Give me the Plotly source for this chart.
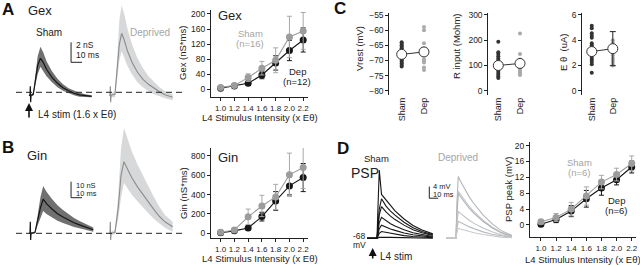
import plotly.graph_objects as go

W, H = 640, 265
FONT = "Liberation Sans, Arial, Helvetica, sans-serif"
GRAY = "#9c9c9c"
BLACK = "#151515"
TXT = "#222222"
DARKBAND = "#707070"
LIGHTBAND = "#d6d8da"
DEPLINE = "#8c8c8c"

# ---------------- data ----------------
levels = [1.0, 1.2, 1.4, 1.6, 1.8, 2.0, 2.2]
level_labels = ["1.0", "1.2", "1.4", "1.6", "1.8", "2.0", "2.2"]

gex_sham = [5, 10, 31, 56, 77, 139, 155]
gex_sham_err = [3, 4, 10, 18, 33, 55, 49]
gex_dep = [3, 9, 16, 38, 70, 103, 131]
gex_dep_err = [2, 3, 5, 10, 19, 27, 32]

gin_sham = [10, 34, 170, 282, 375, 603, 679]
gin_sham_err = [5, 10, 80, 110, 130, 224, 217]
gin_dep = [5, 25, 55, 172, 334, 489, 575]
gin_dep_err = [3, 8, 15, 45, 96, 93, 145]

psp_sham = [0.8, 1.9, 4.0, 7.3, 10.8, 12.7, 15.5]
psp_sham_err = [0.5, 1.0, 1.7, 2.3, 1.7, 1.6, 1.9]
psp_dep = [0.2, 1.4, 3.5, 6.6, 9.3, 11.4, 14.6]
psp_dep_err = [0.4, 0.8, 1.4, 2.1, 1.8, 1.3, 1.5]

groups = ["Sham", "Dep"]
vrest_sham = [-64, -64.5, -65, -65.5, -66, -66.5, -67, -68, -68.5, -69, -69.5, -70, -70.5, -71, -71.5, -72]
vrest_dep = [-59, -60, -64.3, -66, -67, -67.5, -68, -69.6, -70.2, -70.7, -72.3, -73.2]
vrest_mean = [-68.0, -67.2]
rin_sham = [194, 152, 145, 137, 128, 120, 112, 105, 98, 92, 85, 78, 70, 63, 56, 50]
rin_dep = [227, 145, 124, 110, 102, 95, 89, 82, 75, 70, 65, 62]
rin_mean = [100, 108]
eth_sham = [5.15, 4.95, 4.55, 4.35, 4.2, 3.75, 3.6, 3.45, 3.2, 3.0, 2.8, 2.6, 2.45, 2.3, 2.1, 1.43]
eth_dep = [4.0, 3.8, 3.5, 3.3, 3.1, 3.0, 2.8, 2.6, 2.45, 2.3, 2.1, 2.0]
eth_mean = [3.1, 3.33]
eth_dep_err = 1.35

# Gex traces (ms after stim, nS)
gex_sham_t = [-1, 0, 0.3, 0.6, 1, 3, 5, 7, 9.5, 12, 15, 20, 25, 30, 35, 40, 45, 50, 56]
gex_sham_mean = [-0.3, -0.3, 0.6, -1.0, -0.3, -0.2, 1.3, 2.7, 3.4, 3.0, 2.3, 1.5, 0.9, 0.45, 0.15, -0.1, -0.25, -0.35, -0.4]
gex_sham_band_t = [1, 3, 5, 7, 9.5, 12, 15, 20, 25, 30, 35, 40, 45, 50, 56]
gex_sham_hi = [-0.2, -0.05, 1.8, 3.6, 4.55, 4.0, 3.1, 2.1, 1.35, 0.8, 0.4, 0.15, -0.05, -0.2, -0.3]
gex_sham_lo = [-0.4, -0.35, 0.8, 1.8, 2.55, 2.1, 1.6, 1.0, 0.5, 0.15, -0.1, -0.3, -0.45, -0.5, -0.5]

gex_dep_t = [-1, 0, 0.3, 0.6, 1, 4.5, 6.5, 8.5, 10.6, 13, 16, 20, 25, 30, 35, 40, 45, 50, 57]
gex_dep_mean = [-0.3, -0.3, 0.6, -1.0, -0.3, -0.2, 2.2, 4.8, 5.9, 5.2, 4.1, 3.0, 2.0, 1.3, 0.8, 0.4, 0.05, -0.25, -0.5]
gex_dep_band_t = [1, 4.5, 6.5, 8.5, 10.6, 13, 16, 20, 25, 30, 35, 40, 45, 50, 57]
gex_dep_hi = [-0.1, 0.1, 3.5, 7.2, 8.7, 7.8, 6.3, 4.8, 3.4, 2.4, 1.6, 1.0, 0.5, 0.1, -0.2]
gex_dep_lo = [-0.5, -0.5, 1.2, 3.2, 4.1, 3.5, 2.6, 1.8, 1.0, 0.5, 0.1, -0.2, -0.4, -0.6, -0.8]

# Gin traces
gin_sham_t = [-1, 0, 0.3, 0.6, 1, 4.5, 7, 9.5, 12, 15, 20, 25, 30, 35, 40, 45, 50, 57.5]
gin_sham_mean = [0, 0, 7.2, -4.2, 0, 0.5, 8, 16, 21.4, 18.5, 15.2, 12.2, 10.2, 8.3, 6.6, 5.3, 4.0, 2.2]
gin_sham_band_t = [1, 4.5, 7, 9.5, 12, 15, 20, 25, 30, 35, 40, 45, 50, 57.5]
gin_sham_hi = [0.5, 1.2, 11.5, 22.5, 29.6, 26, 21.5, 17.5, 14.5, 11.8, 9.5, 7.7, 6.0, 3.6]
gin_sham_lo = [-0.5, 0, 5, 10, 13.9, 12, 9.8, 7.8, 6.4, 5.1, 4.0, 3.1, 2.3, 1.0]

gin_dep_t = [-1, 0, 0.3, 0.6, 1, 4.5, 7.5, 10, 12.7, 16, 20, 25, 30, 35, 40, 45, 50, 57]
gin_dep_mean = [0, 0, 7.2, -4.2, 0, 0.5, 16, 36, 44.8, 40, 34.5, 29, 24, 19.5, 14.8, 10.5, 7.2, 4.1]
gin_dep_band_t = [1, 4.5, 7.5, 10, 12.7, 16, 20, 25, 30, 35, 40, 45, 50, 57]
gin_dep_hi = [1, 2, 24, 53, 65.8, 59, 51, 43, 36, 29, 22.5, 16.5, 11.5, 7.2]
gin_dep_lo = [-1, -0.5, 9, 22, 31.4, 28, 24, 20, 16, 12.5, 9, 6, 3.5, 1.0]

# PSP traces (ms, mV above -68 mV)
psp_t = [-11, 0, 1, 2.5, 5, 10, 15, 20, 30, 40, 50, 62]
psp_sham_traces = [
    [0, 0, 10, 23.3, 15, 13, 11, 9.4, 6.6, 4.4, 2.8, 1.5],
    [0, 0, 4, 10, 13.5, 11, 9.3, 7.9, 5.5, 3.6, 2.3, 1.2],
    [0, 0, 3, 8, 10.8, 9.0, 7.6, 6.4, 4.5, 2.9, 1.9, 1.0],
    [0, 0, 2, 5.3, 7.2, 6.0, 5.0, 4.2, 2.9, 1.9, 1.2, 0.6],
    [0, 0, 1.2, 3.3, 4.5, 3.8, 3.2, 2.7, 1.8, 1.2, 0.8, 0.4],
    [0, 0, 0.6, 1.7, 2.3, 2.0, 1.7, 1.4, 0.9, 0.6, 0.4, 0.2],
    [0, 0, 0.1, 0.3, 0.4, 0.35, 0.3, 0.25, 0.15, 0.1, 0.05, 0],
]
psp_dep_traces = [
    [0, 0, 12, 21.1, 19.5, 16.5, 14.0, 11.8, 8.0, 5.0, 2.7, 1.0],
    [0, 0, 9, 16.1, 15.0, 12.8, 10.8, 9.1, 6.2, 3.9, 2.1, 0.8],
    [0, 0, 8.5, 15.4, 14.2, 12.0, 10.1, 8.5, 5.8, 3.6, 1.9, 0.7],
    [0, 0, 5, 9.2, 8.5, 7.2, 6.1, 5.1, 3.5, 2.2, 1.2, 0.5],
    [0, 0, 3.2, 5.8, 5.4, 4.6, 3.9, 3.3, 2.2, 1.4, 0.8, 0.3],
    [0, 0, 1.9, 3.4, 3.2, 2.7, 2.3, 1.9, 1.3, 0.8, 0.4, 0.2],
]
psp_dep_colors = ["#b3b6b9", "#c4c7ca", "#aeb1b4", "#bfc2c5", "#b8bbbe", "#c8cacc"]


def fx(x):
    return x / W


def fy(y):
    return 1 - y / H


fig = go.Figure()


def band(t, lo, hi, color, xa, ya):
    fig.add_trace(go.Scatter(x=t, y=lo, xaxis=xa, yaxis=ya, mode="lines",
                             line=dict(width=0, color=color), hoverinfo="skip"))
    fig.add_trace(go.Scatter(x=t, y=hi, xaxis=xa, yaxis=ya, mode="lines",
                             line=dict(width=0, color=color), fill="tonexty",
                             fillcolor=color, hoverinfo="skip"))


def line(t, y, color, xa, ya, w=1.2):
    fig.add_trace(go.Scatter(x=t, y=y, xaxis=xa, yaxis=ya, mode="lines",
                             line=dict(width=w, color=color), hoverinfo="skip"))


# Panel A traces
band(gex_sham_band_t, gex_sham_lo, gex_sham_hi, DARKBAND, "x", "y")
line(gex_sham_t, gex_sham_mean, BLACK, "x", "y")
band(gex_dep_band_t, gex_dep_lo, gex_dep_hi, LIGHTBAND, "x2", "y")
line(gex_dep_t, gex_dep_mean, DEPLINE, "x2", "y", 1.1)

# Panel B traces
band(gin_sham_band_t, gin_sham_lo, gin_sham_hi, DARKBAND, "x4", "y4")
line(gin_sham_t, gin_sham_mean, BLACK, "x4", "y4")
band(gin_dep_band_t, gin_dep_lo, gin_dep_hi, LIGHTBAND, "x5", "y4")
line(gin_dep_t, gin_dep_mean, DEPLINE, "x5", "y4", 1.1)

# Panel D traces
for tr in psp_sham_traces:
    line(psp_t, tr, BLACK, "x10", "y10", 1.1)
for tr, c in zip(psp_dep_traces, psp_dep_colors):
    line(psp_t, tr, c, "x11", "y10", 1.1)


def curve(y, err, color, ecolor, xa, ya):
    fig.add_trace(go.Scatter(
        x=levels, y=y, xaxis=xa, yaxis=ya, mode="lines+markers",
        line=dict(color=color, width=1.1),
        marker=dict(color=color, size=7),
        error_y=dict(type="data", array=err, color=ecolor, thickness=1, width=2.5),
        hoverinfo="skip"))


curve(gex_dep, gex_dep_err, BLACK, BLACK, "x3", "y3")
curve(gex_sham, gex_sham_err, GRAY, "#a8a8a8", "x3", "y3")
curve(gin_dep, gin_dep_err, BLACK, BLACK, "x6", "y6")
curve(gin_sham, gin_sham_err, GRAY, "#a8a8a8", "x6", "y6")
curve(psp_dep, psp_dep_err, BLACK, BLACK, "x12", "y12")
curve(psp_sham, psp_sham_err, GRAY, "#a8a8a8", "x12", "y12")


def scatter_panel(sham, dep, means, xa, ya, dep_err=None):
    fig.add_trace(go.Scatter(x=[groups[0]] * len(sham), y=sham, xaxis=xa, yaxis=ya,
                             mode="markers", marker=dict(color="#333333", size=4),
                             hoverinfo="skip"))
    fig.add_trace(go.Scatter(x=[groups[1]] * len(dep), y=dep, xaxis=xa, yaxis=ya,
                             mode="markers", marker=dict(color="#aaaaaa", size=4),
                             hoverinfo="skip"))
    if dep_err is not None:
        fig.add_trace(go.Scatter(x=[groups[1]], y=[means[1]], xaxis=xa, yaxis=ya,
                                 mode="markers", marker=dict(size=1, color="rgba(0,0,0,0)"),
                                 error_y=dict(type="data", array=[dep_err], color="#222",
                                              thickness=1, width=3),
                                 hoverinfo="skip"))
    fig.add_trace(go.Scatter(x=groups, y=means, xaxis=xa, yaxis=ya, mode="lines+markers",
                             line=dict(color="#333333", width=1),
                             marker=dict(color="white", size=10,
                                         line=dict(color="#333333", width=1)),
                             hoverinfo="skip"))


scatter_panel(vrest_sham, vrest_dep, vrest_mean, "x7", "y7")
scatter_panel(rin_sham, rin_dep, rin_mean, "x8", "y8")
scatter_panel(eth_sham, eth_dep, eth_mean, "x9", "y9", eth_dep_err)


# ---------------- axes ----------------
def hid(dom, rng, anchor, is_y=False):
    if is_y:
        d = [fy(dom[1]), fy(dom[0])]
    else:
        d = [fx(dom[0]), fx(dom[1])]
    return dict(domain=d, range=rng, visible=False, anchor=anchor, fixedrange=True)


axis_common = dict(ticks="outside", ticklen=3, tickwidth=1, tickcolor="#222",
                   showline=True, linecolor="#222", linewidth=1, showgrid=False,
                   zeroline=False, automargin=False,
                   tickfont=dict(size=8.5, color=TXT, family=FONT))


def xline(dom, rng, anchor):
    d = dict(axis_common)
    d.update(domain=[fx(dom[0]), fx(dom[1])], range=rng, anchor=anchor,
             tickvals=levels, ticktext=level_labels, tickangle=0,
             tickfont=dict(size=8, color=TXT, family=FONT))
    return d


def yline(dom, rng, anchor, tv):
    d = dict(axis_common)
    d.update(domain=[fy(dom[1]), fy(dom[0])], range=rng, anchor=anchor, tickvals=tv)
    return d


def xcat(dom, rng, anchor):
    return dict(domain=[fx(dom[0]), fx(dom[1])], range=rng, anchor=anchor,
                type="category", categoryorder="array", categoryarray=groups,
                showline=False, ticks="", showgrid=False, zeroline=False,
                automargin=False,
                tickangle=-90, tickfont=dict(size=9, color=TXT, family=FONT))


layout = dict(
    width=W, height=H, margin=dict(l=0, r=0, t=0, b=0),
    paper_bgcolor="white", plot_bgcolor="white", showlegend=False,
    font=dict(family=FONT, color=TXT),
    xaxis=hid((16, 100), [-12.7, 63.6], "y"),
    xaxis2=hid((100, 182), [-9.1, 65.5], "y"),
    yaxis=hid((0, 105), [-1.27, 9.23], "x", True),
    xaxis3=xline((211, 308), [0.86, 2.27], "y3"),
    yaxis3=yline((10, 97), [-20.5, 210.6], "x3", [0, 40, 80, 120, 160, 200]),
    xaxis4=hid((16, 100), [-12.7, 63.6], "y4"),
    xaxis5=hid((100, 182), [-9.1, 65.5], "y4"),
    yaxis4=hid((120, 245), [-7.3, 70.8], "x4", True),
    xaxis6=xline((211, 308), [0.86, 2.27], "y6"),
    yaxis6=yline((148, 238), [-48.6, 880], "x6", [0, 200, 400, 600, 800]),
    xaxis7=xcat((389.3, 436), [-0.556, 1.54], "y7"),
    yaxis7=yline((13.3, 95), [-81.42, -54.44], "x7", [-80, -75, -70, -65, -60, -55]),
    xaxis8=xcat((488.3, 530), [-0.46, 1.46], "y8"),
    yaxis8=yline((13.3, 95), [-17, 306.7], "x8", [0, 100, 200, 300]),
    xaxis9=xcat((582.3, 625), [-0.45, 1.58], "y9"),
    yaxis9=yline((13.3, 95), [-0.34, 6.13], "x9", [0, 2, 4, 6]),
    xaxis10=hid((362, 440), [-16.7, 70], "y10"),
    xaxis11=hid((440, 515), [-17.8, 65.6], "y10"),
    yaxis10=hid((150, 245), [-2.3, 30.2], "x10", True),
    xaxis12=xline((530, 636), [0.855, 2.257], "y12"),
    yaxis12=yline((142, 237.3), [-3.1, 20.9], "x12", [0, 4, 8, 12, 16, 20]),
)
fig.update_layout(**layout)

# ---------------- shapes ----------------
shapes = [
    dict(type="line", xref="paper", yref="y", x0=fx(16), x1=fx(182), y0=0, y1=0,
         line=dict(color="#222", width=1, dash="6px,4px")),
    dict(type="line", xref="paper", yref="y4", x0=fx(16), x1=fx(182), y0=0, y1=0,
         line=dict(color="#222", width=1, dash="6px,4px")),
    # scale bars: A (2 nS, 10 ms)
    dict(type="line", xref="x", yref="y", x0=37.3, x1=37.3, y0=3.0, y1=5.0,
         line=dict(color="#222", width=1)),
    dict(type="line", xref="x", yref="y", x0=37.3, x1=47.3, y0=3.0, y1=3.0,
         line=dict(color="#222", width=1)),
    # B (10 nS, 10 ms)
    dict(type="line", xref="x4", yref="y4", x0=37.3, x1=37.3, y0=22.25, y1=32.25,
         line=dict(color="#222", width=1)),
    dict(type="line", xref="x4", yref="y4", x0=37.3, x1=47.3, y0=22.25, y1=22.25,
         line=dict(color="#222", width=1)),
    # D (4 mV, 10 ms)
    dict(type="line", xref="x10", yref="y10", x0=58.1, x1=58.1, y0=13.7, y1=17.7,
         line=dict(color="#222", width=1)),
    dict(type="line", xref="x10", yref="y10", x0=58.1, x1=68.1, y0=13.7, y1=13.7,
         line=dict(color="#222", width=1)),
]
fig.update_layout(shapes=shapes)

# ---------------- annotations ----------------
anns = []


def ann(text, x, y, size=10, color=TXT, xanchor="center", angle=0, bold=False):
    if bold:
        text = "<b>" + text + "</b>"
    anns.append(dict(text=text, x=fx(x), y=fy(y), xref="paper", yref="paper",
                     showarrow=False, xanchor=xanchor, yanchor="middle",
                     textangle=angle, font=dict(size=size, color=color, family=FONT)))


def arrow(x, ytip, ytail):
    anns.append(dict(text="", x=fx(x), y=fy(ytip), xref="paper", yref="paper",
                     showarrow=True, ax=0, ay=ytail - ytip, arrowhead=2, arrowsize=1,
                     arrowwidth=1.6, arrowcolor="#111"))


# A
ann("A", 0, 10, 17, "#111", "left", bold=True)
ann("Gex", 26, 11, 13, TXT, "left")
ann("Sham", 48.5, 33, 10)
ann("Deprived", 149.5, 33, 10, "#a5a5a5")
ann("2 nS", 74, 45, 8.5, TXT, "left")
ann("10 ms", 74, 55, 8.5, TXT, "left")
arrow(29, 103, 119)
ann("L4 stim (1.6 x Eθ)", 36, 114, 10, TXT, "left")
ann("Gex", 216, 16, 13, TXT, "left")
ann("Sham", 250, 34, 9.5, "#a5a5a5")
ann("(n=16)", 250, 44, 9.5, "#a5a5a5")
ann("Dep", 297, 72, 9.5)
ann("(n=12)", 297, 82, 9.5)
ann("Gex (nS*ms)", 183, 53, 9.5, TXT, angle=-90)
ann("L4 Stimulus Intensity (x Eθ)", 259.5, 117.5, 9.5)

# B
ann("B", 0, 147, 17, "#111", "left", bold=True)
ann("Gin", 25, 155, 13, TXT, "left")
ann("10 nS", 74, 185.5, 7.5, TXT, "left")
ann("10 ms", 74, 193.5, 7.5, TXT, "left")
ann("Gin", 216, 157, 13, TXT, "left")
ann("Gin (nS*ms)", 183, 193, 9.5, TXT, angle=-90)
ann("L4 Stimulus Intensity (x Eθ)", 259.5, 258.5, 9.5)

# C
ann("C", 332, 9, 17, "#111", "left", bold=True)
ann("Vrest (mV)", 360, 49, 9.5, TXT, angle=-90)
ann("R input (Mohm)", 457, 47, 9.5, TXT, angle=-90)
ann("E θ  (uA)", 564, 52, 9.5, TXT, angle=-90)

# D
ann("D", 335, 148, 17, "#111", "left", bold=True)
ann("Sham", 376, 158, 9.5)
ann("PSP", 349, 173, 14, TXT, "left")
ann("4 mV", 431, 186.5, 7.5, TXT, "left")
ann("10 ms", 431, 194.5, 7.5, TXT, "left")
ann("-68", 351, 235.5, 8.5, TXT, "left")
ann("mV", 351, 244.5, 8.5, TXT, "left")
arrow(372.7, 248, 260)
ann("L4 stim", 378, 256, 10, TXT, "left")
ann("Deprived", 458, 157, 10, "#a5a5a5")
ann("Sham", 579, 162.5, 9.5, "#a5a5a5")
ann("(n=6)", 579, 172.5, 9.5, "#a5a5a5")
ann("Dep", 616, 200.5, 9.5)
ann("(n=6)", 616, 210.5, 9.5)
ann("PSP peak (mV)", 508, 190, 9.5, TXT, angle=-90)
ann("L4 Stimulus Intensity (x Eθ)", 583, 259.5, 9.5)

fig.update_layout(annotations=anns)
fig.write_html("out.html",
               config={"displayModeBar": False, "staticPlot": True},
               post_script="document.body.style.margin='0px';document.body.style.overflow='hidden';")
